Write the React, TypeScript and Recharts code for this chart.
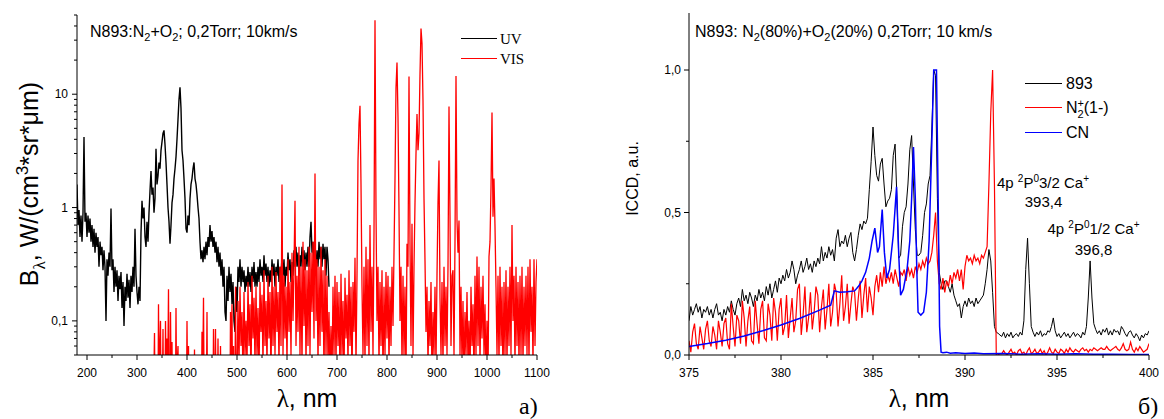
import React from 'react';
import { LineChart, Line, XAxis, YAxis } from 'recharts';

// ---------- Left panel (a): log-scale spectra ----------
const uvStart = 180;
const uvStep = 2;
const uvValues = [
  1.6, 0.7, 0.95, 0.55, 0.85, 0.5, 0.9, 4.2, 0.75, 0.9,
  0.55, 0.85, 0.6, 0.8, 0.5, 0.7, 0.45, 0.65, 0.4, 0.6,
  0.45, 0.55, 0.3, 0.5, 0.38, 0.45, 0.28, 0.42, 0.3, 0.1,
  0.35, 0.25, 0.4, 0.3, 0.98, 0.28, 0.35, 0.18, 0.3, 0.2,
  0.28, 0.15, 0.25, 0.19, 0.27, 0.13, 0.22, 0.09, 0.2, 0.15,
  0.26, 0.16, 0.23, 0.13, 0.25, 0.18, 0.3, 0.2, 0.65, 0.25,
  0.18, 0.14, 0.2, 0.15, 0.6, 1.15, 0.8, 1.0, 0.55, 0.45,
  0.75, 0.5, 0.9, 1.4, 2.1, 1.3, 1.5, 0.9, 1.2, 3.3,
  1.6, 1.9, 2.5, 2.2, 3.2, 3.8, 4.5, 4.8, 3.6, 2.5,
  1.6, 1.0, 0.75, 0.48, 0.7, 1.1, 1.3, 1.8, 2.2, 2.8,
  4.0, 6.0, 9.0, 11.5, 7.5, 3.2, 2.6, 1.8, 1.2, 0.65,
  0.6, 0.85, 0.7, 1.2, 1.6, 1.8, 2.2, 2.5, 1.8, 1.6,
  1.3, 1.0, 0.8, 0.5, 0.35, 0.42, 0.33, 0.45, 0.35, 0.5,
  0.38, 0.55, 0.45, 0.7, 0.5, 0.62, 0.45, 0.55, 0.4, 0.5,
  0.33, 0.45, 0.3, 0.4, 0.25, 0.35, 0.2, 0.3, 0.12, 0.1,
  0.25, 0.15, 0.3, 0.18, 0.26, 0.14, 0.22, 0.1, 0.08, 0.2,
  0.12, 0.3, 0.22, 0.35, 0.2, 0.3, 0.22, 0.28, 0.18, 0.25,
  0.2, 0.3, 0.2, 0.27, 0.18, 0.3, 0.22, 0.33, 0.2, 0.27,
  0.2, 0.3, 0.22, 0.35, 0.25, 0.3, 0.22, 0.38, 0.25, 0.32,
  0.22, 0.3, 0.2, 0.28, 0.22, 0.35, 0.25, 0.32, 0.2, 0.3,
  0.25, 0.35, 0.22, 0.3, 0.25, 0.37, 0.25, 0.35, 0.2, 0.3,
  0.25, 0.4, 0.28, 0.35, 0.22, 0.33, 0.25, 0.42, 0.3, 0.45,
  0.3, 0.4, 0.25, 0.38, 0.3, 0.45, 0.3, 0.42, 0.28, 0.4,
  0.3, 0.45, 0.3, 0.55, 0.75, 0.4, 0.5, 0.3, 0.45, 0.28,
  0.42, 0.3, 0.5, 0.35, 0.45, 0.3, 0.48, 0.35, 0.45, 0.25,
  0.45, 0.35, 0.2,
];

const visSpikes: [number, number][] = [
  [333, 0.02], [335, 0.078], [336, 0.02], [342, 0.02], [343, 0.14], [344, 0.03],
  [347, 0.1], [348, 0.02], [351, 0.03], [352, 0.085], [353, 0.02], [356, 0.02],
  [357, 0.1], [358, 0.04], [360, 0.07], [361, 0.02], [363, 0.19], [364, 0.03],
  [366, 0.02], [367, 0.12], [368, 0.04], [370, 0.065], [371, 0.02], [377, 0.02],
  [378, 0.13], [379, 0.03], [382, 0.06], [383, 0.02], [399, 0.02], [400, 0.1],
  [401, 0.03], [403, 0.06], [404, 0.02], [414, 0.02], [415, 0.056], [416, 0.02],
  [429, 0.02], [430, 0.08], [431, 0.02], [433, 0.16], [434, 0.03], [439, 0.03],
  [440, 0.12], [441, 0.02], [452, 0.02], [453, 0.085], [454, 0.03], [456, 0.03],
  [457, 0.085], [458, 0.02], [461, 0.02], [462, 0.07], [463, 0.02], [466, 0.02],
  [467, 0.06], [468, 0.02], [486, 0.02], [487, 0.12], [488, 0.03], [490, 0.14],
  [491, 0.02], [493, 0.06], [494, 0.02], [496, 0.02], [497, 0.2], [498, 0.04],
];

const visStart = 500;
const visStep = 2;
const visValues = [
  0.03, 0.15, 0.04, 0.2, 0.06, 0.12, 0.03, 0.18, 0.05, 0.1,
  0.04, 0.22, 0.06, 0.14, 0.03, 0.25, 0.07, 0.16, 0.04, 0.2,
  0.05, 0.13, 0.03, 0.22, 0.08, 0.17, 0.04, 0.28, 0.06, 0.15,
  0.04, 0.25, 0.07, 0.18, 0.03, 0.3, 0.06, 0.2, 0.05, 0.27,
  0.08, 0.18, 0.04, 0.3, 0.06, 1.6, 0.05, 0.25, 0.07, 0.2,
  0.04, 0.35, 0.08, 0.22, 0.05, 0.4, 0.1, 0.3, 1.15, 0.06,
  0.25, 0.08, 0.45, 0.05, 0.3, 0.04, 0.5, 0.09, 0.35, 0.04,
  0.28, 0.06, 0.45, 0.05, 0.4, 0.12, 0.5, 0.07, 2.0, 0.1,
  0.35, 0.04, 0.3, 0.06, 0.45, 0.08, 0.28, 0.03, 0.35, 0.05,
  0.25, 0.04, 0.12, 0.03, 0.09, 0.03, 0.2, 0.05, 0.25, 0.04,
  0.22, 0.06, 0.18, 0.03, 0.26, 0.05, 0.15, 0.03, 0.24, 0.07,
  0.17, 0.04, 0.28, 0.06, 0.2, 0.03, 0.22, 0.08, 0.36, 0.04,
  0.25, 2.6, 5.5, 7.9, 1.6, 0.2, 0.05, 0.3, 0.04, 0.45,
  0.06, 0.35, 0.04, 0.7, 0.08, 0.3, 0.05, 0.6, 45, 0.95,
  0.1, 0.3, 0.04, 0.22, 0.06, 0.28, 0.03, 0.2, 0.05, 0.27,
  0.07, 0.25, 0.04, 0.2, 0.06, 0.3, 0.09, 0.4, 1.8, 11.4,
  19, 6.2, 0.95, 0.1, 0.3, 0.04, 0.25, 0.05, 0.2, 0.03,
  0.48, 0.3, 14.3, 0.48, 0.06, 0.72, 0.05, 0.3, 1.1, 3.0,
  6.7, 3.2, 4.5, 15, 38, 28, 8.7, 1.2, 0.34, 0.08,
  0.2, 0.04, 0.15, 0.06, 0.22, 0.03, 0.12, 0.05, 0.2, 0.04,
  0.25, 1.1, 2.6, 0.16, 0.05, 0.22, 0.04, 0.3, 0.06, 0.2,
  0.05, 0.3, 7.8, 0.83, 0.06, 0.25, 0.28, 0.05, 0.5, 14.5,
  0.77, 0.4, 0.77, 0.05, 0.2, 0.04, 0.15, 0.03, 0.12, 0.05,
  0.18, 0.04, 0.1, 0.03, 0.2, 0.06, 0.14, 0.03, 0.25, 0.05,
  0.37, 0.06, 0.3, 0.04, 0.2, 0.07, 0.25, 0.05, 0.14, 0.03,
  0.1, 0.03, 0.37, 0.5, 1.5, 6.9, 0.83, 1.8, 0.68, 0.2,
  0.05, 0.25, 0.04, 0.3, 0.06, 0.2, 0.03, 0.22, 0.05, 0.28,
  0.04, 0.2, 0.06, 0.3, 0.05, 0.7, 0.1, 0.25, 0.04, 0.3,
  0.06, 0.22, 0.04, 0.25, 0.05, 0.3, 0.04, 0.2, 0.06, 0.25,
  0.05, 0.3, 0.04, 0.35, 0.08, 0.2, 0.04, 0.35, 0.06, 0.22,
  0.35,
];

const leftXTicks = [200, 250, 300, 350, 400, 450, 500, 550, 600, 650, 700, 750, 800, 850, 900, 950, 1000, 1050, 1100];
const leftYTicks = [0.05, 0.06, 0.07, 0.08, 0.09, 0.1, 0.2, 0.3, 0.4, 0.5, 0.6, 0.7, 0.8, 0.9, 1, 2, 3, 4, 5, 6, 7, 8, 9, 10, 20, 30, 40, 50];
const leftYLabels: Record<string, string> = { '0.1': '0,1', '1': '1', '10': '10' };

// ---------- Right panel (б): linear spectra ----------
const rStart = 375;
const rStep = 0.1;
const s893 = [
  0.12, 0.17, 0.14, 0.16, 0.18, 0.15, 0.17, 0.13, 0.16, 0.15,
  0.17, 0.14, 0.16, 0.13, 0.16, 0.18, 0.14, 0.15, 0.12, 0.16,
  0.14, 0.17, 0.15, 0.19, 0.16, 0.14, 0.18, 0.2, 0.17, 0.23,
  0.19, 0.21, 0.18, 0.22, 0.2, 0.17, 0.21, 0.19, 0.23, 0.2,
  0.22, 0.19, 0.24, 0.21, 0.25, 0.2, 0.23, 0.26, 0.22, 0.27,
  0.25, 0.28, 0.26, 0.3, 0.27, 0.29, 0.33, 0.3, 0.25, 0.28,
  0.3, 0.33, 0.29, 0.31, 0.34, 0.3, 0.32, 0.29, 0.33, 0.31,
  0.34, 0.32, 0.38, 0.33, 0.36, 0.34, 0.38, 0.35, 0.37, 0.33,
  0.41, 0.44, 0.38, 0.4, 0.39, 0.42, 0.38, 0.41, 0.43, 0.36,
  0.33, 0.37, 0.42, 0.46, 0.44, 0.47, 0.46, 0.48, 0.58, 0.68,
  0.8, 0.7, 0.63, 0.61, 0.67, 0.69, 0.6, 0.52, 0.54, 0.55,
  0.58, 0.7, 0.74, 0.55, 0.34, 0.35, 0.45, 0.5, 0.52, 0.6,
  0.72, 0.77, 0.6, 0.44, 0.35, 0.35, 0.36, 0.42, 0.5, 0.53,
  0.6, 0.63, 0.8, 1.0, 0.98, 0.55, 0.29, 0.25, 0.23, 0.26,
  0.26, 0.24, 0.22, 0.25, 0.21, 0.19, 0.17, 0.18, 0.13, 0.17,
  0.19, 0.17, 0.2, 0.18, 0.19, 0.17, 0.2, 0.18, 0.19, 0.2,
  0.21, 0.25, 0.3, 0.37, 0.33, 0.22, 0.1, 0.08, 0.076, 0.07,
  0.065, 0.08, 0.06, 0.075, 0.065, 0.08, 0.06, 0.07, 0.075, 0.065,
  0.08, 0.07, 0.12, 0.3, 0.41, 0.25, 0.1, 0.08, 0.065, 0.08,
  0.07, 0.085, 0.065, 0.075, 0.07, 0.085, 0.08, 0.1, 0.13, 0.085,
  0.065, 0.075, 0.06, 0.07, 0.08, 0.065, 0.075, 0.06, 0.07, 0.08,
  0.065, 0.075, 0.07, 0.06, 0.08, 0.07, 0.1, 0.2, 0.33, 0.2,
  0.11, 0.09, 0.075, 0.085, 0.07, 0.09, 0.08, 0.095, 0.07, 0.085,
  0.07, 0.09, 0.08, 0.085, 0.07, 0.1, 0.09, 0.075, 0.065, 0.08,
  0.085, 0.07, 0.06, 0.075, 0.065, 0.05, 0.07, 0.06, 0.075, 0.07,
  0.085,
];
const n2plus = [
  0.05, 0.01, 0.08, 0.11, 0.04, 0.02, 0.1, 0.06, 0.02, 0.09,
  0.12, 0.05, 0.03, 0.1, 0.07, 0.02, 0.12, 0.08, 0.03, 0.11,
  0.13, 0.04, 0.02, 0.18, 0.1, 0.03, 0.14, 0.12, 0.04, 0.19,
  0.13, 0.03, 0.12, 0.17, 0.05, 0.04, 0.19, 0.11, 0.04, 0.16,
  0.19, 0.06, 0.05, 0.18, 0.14, 0.05, 0.2, 0.15, 0.05, 0.16,
  0.2, 0.07, 0.1, 0.21, 0.06, 0.13, 0.2, 0.08, 0.12, 0.23,
  0.25, 0.07, 0.14, 0.24, 0.08, 0.13, 0.22, 0.09, 0.15, 0.24,
  0.21, 0.08, 0.17, 0.23, 0.09, 0.16, 0.25, 0.1, 0.15, 0.25,
  0.22, 0.1, 0.18, 0.28, 0.12, 0.17, 0.25, 0.11, 0.18, 0.24,
  0.22, 0.12, 0.2, 0.26, 0.13, 0.21, 0.27, 0.15, 0.24, 0.2,
  0.14, 0.24, 0.28, 0.22, 0.29, 0.24, 0.31, 0.25, 0.28, 0.26,
  0.29, 0.25, 0.3, 0.27, 0.24, 0.29, 0.28, 0.3, 0.26, 0.31,
  0.28, 0.3, 0.27, 0.31, 0.29, 0.32, 0.3, 0.33, 0.31, 0.34,
  0.32, 0.33, 0.36, 0.42, 0.5, 0.33, 0.25, 0.23, 0.27, 0.22,
  0.26, 0.24, 0.28, 0.25, 0.29, 0.27, 0.3, 0.26, 0.3, 0.23,
  0.31, 0.35, 0.33, 0.34, 0.32, 0.35, 0.33, 0.34, 0.32, 0.35,
  0.34, 0.36, 0.38, 0.6, 0.85, 1.0, 0.6, 0.0, 0.0, 0.005,
  0.005, 0.015, 0.005, 0.0, 0.01, 0.02, 0.005, 0.01, 0.0, 0.015,
  0.02, 0.005, 0.01, 0.0, 0.015, 0.025, 0.005, 0.01, 0.02, 0.005,
  0.01, 0.02, 0.005, 0.015, 0.0, 0.01, 0.025, 0.01, 0.005, 0.02,
  0.01, 0.005, 0.02, 0.015, 0.005, 0.02, 0.01, 0.025, 0.015, 0.01,
  0.02, 0.015, 0.01, 0.02, 0.025, 0.015, 0.02, 0.01, 0.02, 0.015,
  0.025, 0.02, 0.015, 0.02, 0.025, 0.02, 0.02, 0.03, 0.02, 0.015,
  0.02, 0.025, 0.03, 0.02, 0.015, 0.025, 0.04, 0.02, 0.015, 0.02,
  0.045, 0.02, 0.01, 0.025, 0.015, 0.03, 0.02, 0.01, 0.015, 0.02,
  0.04,
];
const cnPoints: [number, number][] = [
  [375, 0.03], [376, 0.04], [377, 0.052], [378, 0.067], [379, 0.085], [380, 0.105],
  [381, 0.128], [382, 0.155], [382.7, 0.175], [382.8, 0.2], [382.9, 0.225], [383.2, 0.22],
  [383.6, 0.222], [384.0, 0.225], [384.2, 0.24], [384.4, 0.26], [384.6, 0.29], [384.8, 0.34],
  [384.95, 0.4], [385.1, 0.445], [385.25, 0.36], [385.35, 0.38], [385.5, 0.51], [385.62, 0.36],
  [385.75, 0.27], [385.9, 0.3], [386.1, 0.42], [386.28, 0.59], [386.4, 0.35], [386.5, 0.21],
  [386.65, 0.23], [386.85, 0.3], [387.0, 0.4], [387.1, 0.55], [387.2, 0.73], [387.3, 0.55],
  [387.38, 0.3], [387.45, 0.15], [387.6, 0.14], [387.75, 0.15], [387.9, 0.22], [388.05, 0.4],
  [388.2, 0.75], [388.3, 1.0], [388.45, 1.0], [388.55, 0.5], [388.62, 0.1], [388.7, 0.01],
  [388.8, 0.008], [389.0, 0.01], [389.2, 0.006], [389.5, 0.008], [390, 0.005], [390.5, 0.007],
  [391, 0.004], [392, 0.005], [393, 0.003], [394, 0.004], [395, 0.003], [396, 0.004],
  [397, 0.003], [398, 0.003], [399, 0.002], [400, 0.002],
];
const rightXTicks = [375, 377.5, 380, 382.5, 385, 387.5, 390, 392.5, 395, 397.5, 400];
const rightYTicks = [0, 0.25, 0.5, 0.75, 1.0];
const rightYLabels: Record<string, string> = { '0': '0,0', '0.5': '0,5', '1': '1,0' };

// ---------- derived data ----------
const uvData = uvValues.map((y, i) => ({ x: uvStart + uvStep * i, y }));
const visData = [
  ...visSpikes.map(([x, y]) => ({ x, y })),
  ...visValues.map((y, i) => ({ x: visStart + visStep * i, y })),
];
const rx = (i: number) => Math.round((rStart + rStep * i) * 10) / 10;
const d893 = s893.map((y, i) => ({ x: rx(i), y }));
const dN2 = n2plus.map((y, i) => ({ x: rx(i), y }));
const dCN = cnPoints.map(([x, y]) => ({ x, y }));

const SANS = "'Liberation Sans', Arial, sans-serif";
const SERIF = "'Liberation Serif', 'Times New Roman', serif";

function LeftXTick(props: any) {
  const { x, y, payload } = props;
  const v = payload.value;
  const major = v % 100 === 0;
  return (
    <g>
      <line x1={x} x2={x} y1={y} y2={y + (major ? 5 : 3)} stroke="#000" strokeWidth={1} />
      {major && (
        <text x={x} y={y + 22} textAnchor="middle" fontSize={12} fontFamily={SANS} fill="#000">{v}</text>
      )}
    </g>
  );
}
function LeftYTick(props: any) {
  const { x, y, payload } = props;
  const label = leftYLabels[String(payload.value)];
  return (
    <g>
      <line x1={x - (label ? 5 : 3)} x2={x} y1={y} y2={y} stroke="#000" strokeWidth={1} />
      {label && (
        <text x={x - 9} y={y} dy="0.35em" textAnchor="end" fontSize={12} fontFamily={SANS} fill="#000">{label}</text>
      )}
    </g>
  );
}
function RightXTick(props: any) {
  const { x, y, payload } = props;
  const v = payload.value;
  const major = (v - 375) % 5 === 0;
  return (
    <g>
      <line x1={x} x2={x} y1={y} y2={y + (major ? 5 : 3)} stroke="#000" strokeWidth={1} />
      {major && (
        <text x={x} y={y + 22} textAnchor="middle" fontSize={12} fontFamily={SANS} fill="#000">{v}</text>
      )}
    </g>
  );
}
function RightYTick(props: any) {
  const { x, y, payload } = props;
  const label = rightYLabels[String(payload.value)];
  return (
    <g>
      <line x1={x - (label ? 5 : 3)} x2={x} y1={y} y2={y} stroke="#000" strokeWidth={1} />
      {label && (
        <text x={x - 8} y={y} dy="0.35em" textAnchor="end" fontSize={12} fontFamily={SANS} fill="#000">{label}</text>
      )}
    </g>
  );
}

export default function App() {
  return (
    <div style={{ position: 'absolute', left: 0, top: 0, width: 1164, height: 419, background: '#fff', overflow: 'hidden' }}>
      <div style={{ position: 'absolute', left: 0, top: 0 }}>
        <LineChart width={560} height={419} margin={{ top: 15, right: 23, bottom: 0, left: 0 }}>
          <XAxis
            type="number" dataKey="x" domain={[180, 1100]} allowDataOverflow ticks={leftXTicks} interval={0}
            height={64} tickSize={0} tickMargin={0} tickLine={false} axisLine={{ stroke: '#000' }}
            tick={(p: any) => <LeftXTick {...p} />}
          />
          <YAxis
            type="number" dataKey="y" scale="log" domain={[0.05, 50]} allowDataOverflow ticks={leftYTicks} interval={0}
            width={77} tickSize={0} tickMargin={0} tickLine={false} axisLine={{ stroke: '#000' }}
            tick={(p: any) => <LeftYTick {...p} />}
          />
          <Line data={uvData} dataKey="y" type="linear" stroke="#000" strokeWidth={1.4} dot={false} isAnimationActive={false} />
          <Line data={visData} dataKey="y" type="linear" stroke="#ff0000" strokeWidth={1.3} dot={false} isAnimationActive={false} />
        </LineChart>
      </div>
      <div style={{ position: 'absolute', left: 560, top: 0 }}>
        <LineChart width={604} height={419} margin={{ top: 13, right: 15, bottom: 0, left: 0 }}>
          <XAxis
            type="number" dataKey="x" domain={[375, 400]} allowDataOverflow ticks={rightXTicks} interval={0}
            height={64} tickSize={0} tickMargin={0} tickLine={false} axisLine={{ stroke: '#000' }}
            tick={(p: any) => <RightXTick {...p} />}
          />
          <YAxis
            type="number" dataKey="y" domain={[0, 1.2]} allowDataOverflow ticks={rightYTicks} interval={0}
            width={129} tickSize={0} tickMargin={0} tickLine={false} axisLine={{ stroke: '#000' }}
            tick={(p: any) => <RightYTick {...p} />}
          />
          <Line data={d893} dataKey="y" type="linear" stroke="#000" strokeWidth={1} dot={false} isAnimationActive={false} />
          <Line data={dN2} dataKey="y" type="linear" stroke="#ff0000" strokeWidth={1.2} dot={false} isAnimationActive={false} />
          <Line data={dCN} dataKey="y" type="linear" stroke="#0000ff" strokeWidth={1.5} dot={false} isAnimationActive={false} />
        </LineChart>
      </div>
      <svg width={1164} height={419} style={{ position: 'absolute', left: 0, top: 0, pointerEvents: 'none' }}>
        {/* Left panel texts */}
        <text x={90} y={37} fontSize={16} fontFamily={SANS} fill="#000">
          N893:N<tspan dy={4} fontSize={11}>2</tspan><tspan dy={-4}>+O</tspan><tspan dy={4} fontSize={11}>2</tspan><tspan dy={-4}>; 0,2Torr; 10km/s</tspan>
        </text>
        <line x1={461} x2={497} y1={38.5} y2={38.5} stroke="#000" strokeWidth={1} />
        <line x1={461} x2={497} y1={58.5} y2={58.5} stroke="#ff0000" strokeWidth={1} />
        <text x={500} y={43.5} fontSize={15} fontFamily={SERIF} fill="#000">UV</text>
        <text x={500} y={63.5} fontSize={15} fontFamily={SERIF} fill="#000">VIS</text>
        <text transform="translate(37.5,184) rotate(-90)" textAnchor="middle" fontSize={25} fontFamily={SANS} fill="#000">
          B<tspan dy={7} fontSize={17} fontFamily={SERIF}>λ</tspan><tspan dy={-7}>, W/(cm</tspan><tspan dy={-10} fontSize={17}>3</tspan><tspan dy={10}>*sr*μm)</tspan>
        </text>
        <text x={307} y={407} textAnchor="middle" fontSize={25} fontFamily={SANS} fill="#000">
          <tspan fontFamily={SERIF}>λ</tspan>, nm
        </text>
        <text x={519} y={414} fontSize={24} fontFamily={SERIF} fill="#000">a)</text>

        {/* Right panel texts */}
        <text x={695} y={37} fontSize={16} fontFamily={SANS} fill="#000">
          N893: N<tspan dy={4} fontSize={11}>2</tspan><tspan dy={-4}>(80%)+O</tspan><tspan dy={4} fontSize={11}>2</tspan><tspan dy={-4}>(20%) 0,2Torr; 10 km/s</tspan>
        </text>
        <line x1={1025} x2={1062} y1={83.5} y2={83.5} stroke="#000" strokeWidth={1} />
        <line x1={1025} x2={1062} y1={107.5} y2={107.5} stroke="#ff0000" strokeWidth={1} />
        <line x1={1025} x2={1062} y1={132.5} y2={132.5} stroke="#0000ff" strokeWidth={1} />
        <text x={1066} y={89} fontSize={16} fontFamily={SANS} fill="#000">893</text>
        <text x={1066} y={113} fontSize={16} fontFamily={SANS} fill="#000">
          N<tspan dy={-6} fontSize={11}>+</tspan><tspan dx={-6.4} dy={11} fontSize={11}>2</tspan><tspan dy={-5}>(1-)</tspan>
        </text>
        <text x={1066} y={138} fontSize={16} fontFamily={SANS} fill="#000">CN</text>
        <text transform="translate(637.5,178.5) rotate(-90)" textAnchor="middle" fontSize={16} fontFamily={SANS} fill="#000">ICCD, a.u.</text>
        <text x={1043} y={188} textAnchor="middle" fontSize={15} fontFamily={SANS} fill="#000">
          4p <tspan dy={-6} fontSize={10}>2</tspan><tspan dy={6}>P</tspan><tspan dy={-6} fontSize={10}>0</tspan><tspan dy={6}>3/2 Ca</tspan><tspan dy={-6} fontSize={10}>+</tspan>
        </text>
        <text x={1043.5} y={206.5} textAnchor="middle" fontSize={15} fontFamily={SANS} fill="#000">393,4</text>
        <text x={1093.5} y={234} textAnchor="middle" fontSize={15} fontFamily={SANS} fill="#000">
          4p <tspan dy={-6} fontSize={10}>2</tspan><tspan dy={6}>P</tspan><tspan dy={-6} fontSize={10}>0</tspan><tspan dy={6}>1/2 Ca</tspan><tspan dy={-6} fontSize={10}>+</tspan>
        </text>
        <text x={1093.5} y={255} textAnchor="middle" fontSize={15} fontFamily={SANS} fill="#000">396,8</text>
        <text x={919} y={407} textAnchor="middle" fontSize={25} fontFamily={SANS} fill="#000">
          <tspan fontFamily={SERIF}>λ</tspan>, nm
        </text>
        <text x={1138} y={414} fontSize={24} fontFamily={SERIF} fill="#000">б)</text>
      </svg>
    </div>
  );
}
